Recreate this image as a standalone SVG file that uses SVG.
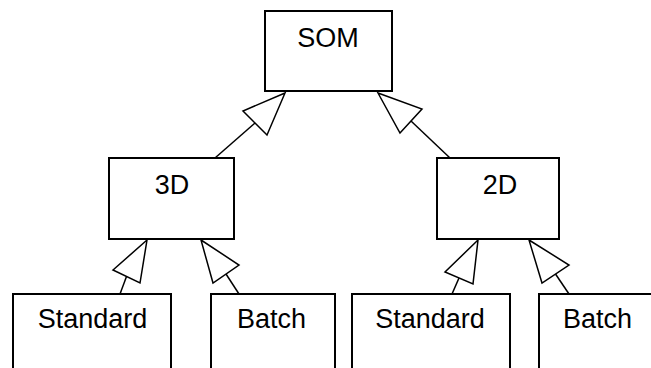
<svg xmlns="http://www.w3.org/2000/svg" width="651" height="368" viewBox="0 0 651 368">
<style>
.box{fill:#fff;stroke:#000;stroke-width:2}
.lbl{font-family:"Liberation Sans",Arial,sans-serif;font-size:27px;fill:#000;text-anchor:middle}
.ln{stroke:#000;stroke-width:1.5;fill:none}
.hd{fill:#fff;stroke:#000;stroke-width:1.5;stroke-linejoin:miter}
</style>
<rect width="651" height="368" fill="#fff"/>
<g id="connectors">
<line class="ln" x1="255" y1="123" x2="215" y2="158"/>
<polygon class="hd" points="285,93 243,111 267,135"/>
<line class="ln" x1="411" y1="121" x2="450" y2="158"/>
<polygon class="hd" points="378,93 422,109 400,133"/>
<line class="ln" x1="126.5" y1="276.5" x2="120" y2="294"/>
<polygon class="hd" points="147,240 113,270 140,283"/>
<line class="ln" x1="226" y1="274" x2="239" y2="294"/>
<polygon class="hd" points="201,240 239,265 213,283"/>
<line class="ln" x1="459" y1="278" x2="452" y2="294"/>
<polygon class="hd" points="478,240 445,272 473,284"/>
<line class="ln" x1="555.5" y1="274" x2="569" y2="294"/>
<polygon class="hd" points="529,240 569,265 542,283"/>
</g>
<g id="som"><rect class="box" x="265" y="11" width="127" height="80"/><text class="lbl" x="328" y="47">SOM</text></g>
<g id="n3d"><rect class="box" x="109" y="158" width="125" height="81"/><text class="lbl" x="172" y="194">3D</text></g>
<g id="n2d"><rect class="box" x="437" y="158" width="122" height="81"/><text class="lbl" x="500" y="194">2D</text></g>
<g id="std1"><rect class="box" x="13" y="294" width="158" height="90"/><text class="lbl" x="92.5" y="328">Standard</text></g>
<g id="batch1"><rect class="box" x="211" y="294" width="124" height="90"/><text class="lbl" x="271.5" y="328">Batch</text></g>
<g id="std2"><rect class="box" x="352" y="294" width="158" height="90"/><text class="lbl" x="430" y="328">Standard</text></g>
<g id="batch2"><rect class="box" x="539" y="294" width="130" height="90"/><text class="lbl" x="597.5" y="328">Batch</text></g>
</svg>
